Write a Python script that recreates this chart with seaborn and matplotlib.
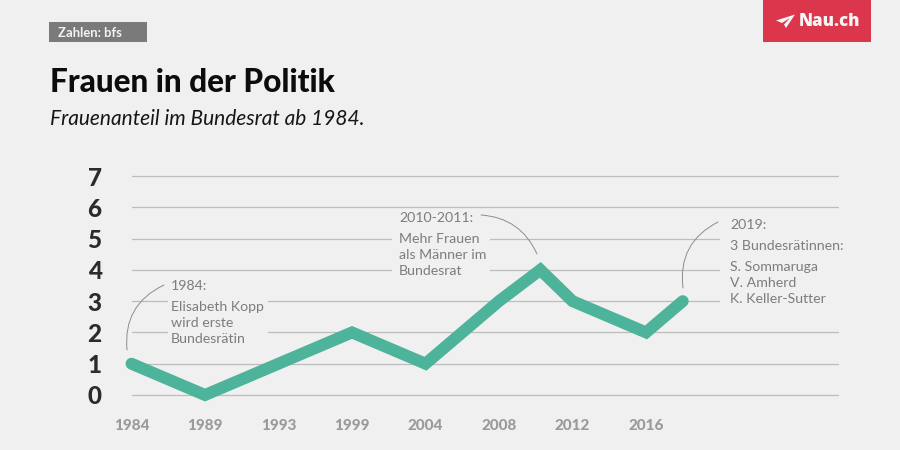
import numpy as np
import pandas as pd
import matplotlib
matplotlib.use("Agg")
import matplotlib.pyplot as plt
from matplotlib.patches import Rectangle, Polygon
import seaborn as sns

years = [1984, 1989, 1993, 1999, 2004, 2008, 2010.25, 2012, 2016, 2018]
women = [1, 0, 1, 2, 1, 3, 4, 3, 2, 3]
tick_years = [1984, 1989, 1993, 1999, 2004, 2008, 2012, 2016]
y_ticks = [0, 1, 2, 3, 4, 5, 6, 7]

BG = "#f0f0f0"
W, H = 900, 450
sns.set_theme(style="white", rc={"figure.facecolor": BG, "axes.facecolor": BG})
plt.rcParams["font.family"] = ["Lato", "DejaVu Sans"]

fig = plt.figure(figsize=(9, 4.5), dpi=100)
ax = fig.add_axes([131.5 / W, (H - 395) / H, (838 - 131.5) / W, (395 - 176) / H])

# evenly spaced tick slots, as in the original axis
slot_ext = tick_years + [2026.45]
slot_pos = list(range(len(tick_years))) + [7 + 192 / 73.5]
fwd = lambda v: np.interp(v, slot_ext, slot_pos, left=-1, right=12)
inv = lambda v: np.interp(v, slot_pos, slot_ext)
ax.set_xscale("function", functions=(fwd, inv))

df = pd.DataFrame({"Jahr": years, "Frauen": women})
sns.lineplot(data=df, x="Jahr", y="Frauen", ax=ax, color="#4eb39b", linewidth=8.6,
             solid_capstyle="round", solid_joinstyle="miter", clip_on=False, zorder=5)

ax.set_xlim(1984, 2026.45)
ax.set_ylim(0, 7)
ax.set_xticks(tick_years)
ax.set_xticklabels([str(t) for t in tick_years], fontsize=11, fontweight="black", color="#9a9a9a")
ax.set_yticks(y_ticks)
ax.set_yticklabels([str(t) for t in y_ticks], fontsize=17.5, fontweight="black", color="#2b2b2b")
ax.tick_params(axis="x", length=0, pad=17.5)
ax.tick_params(axis="y", length=0, pad=21.5)
ax.minorticks_off()
ax.set_xlabel("")
ax.set_ylabel("")
ax.grid(axis="y", color="#bdbdbd", linewidth=0.9)
ax.grid(axis="x", visible=False)
ax.set_axisbelow(True)
for g in ax.get_ygridlines():
    g.set_clip_on(False)
for s in ax.spines.values():
    s.set_visible(False)


def px(x, y):
    return x / W, 1 - y / H


def mask(x0, y0, x1, y1):
    ax.add_patch(Rectangle(px(x0, y1), (x1 - x0) / W, (y1 - y0) / H, transform=fig.transFigure,
                           facecolor=BG, edgecolor="none", zorder=2, clip_on=False))


def label(x, y, s, **kw):
    kw.setdefault("color", "#7d7d7d")
    kw.setdefault("fontsize", 10.2)
    fig.text(*px(x, y), s, va="center", ha="left", zorder=10, **kw)


def arc(start, end, rad):
    ax.annotate("", xy=px(*end), xytext=px(*start), xycoords="figure fraction",
                textcoords="figure fraction", zorder=6, annotation_clip=False,
                arrowprops=dict(arrowstyle="-", color="#8c8c8c", lw=0.7,
                                connectionstyle=f"arc3,rad={rad}", shrinkA=0, shrinkB=0))


mask(168, 295, 268, 340)
mask(392, 232, 490, 276)
mask(720, 232, 850, 306)

# header
fig.patches.append(Rectangle(px(49, 42), 98 / W, 20 / H, transform=fig.transFigure, facecolor="#7a7a7a", edgecolor="none"))
label(58, 33, "Zahlen: bfs", color="#f2f2f2", fontsize=9.4, fontweight="bold")
label(50, 82, "Frauen in der Politik", color="#0c0c0c", fontsize=22.7, fontweight="black")
label(50, 119, "Frauenanteil im Bundesrat ab 1984.", color="#161616", fontsize=15.0, fontstyle="italic")

# logo
fig.patches.append(Rectangle(px(763, 42), 108 / W, 42 / H, transform=fig.transFigure, facecolor="#dc364c", edgecolor="none"))
plane = [(776, 20.5), (795, 14.5), (786, 28), (784, 24.5), (790, 18), (782, 23)]
fig.patches.append(Polygon([px(*p) for p in plane], closed=True, transform=fig.transFigure, facecolor="#f5f5f5", edgecolor="none"))
label(799, 22, "Nau.ch", color="#f5f5f5", fontsize=12.2, fontweight="black", family=["Open Sans", "DejaVu Sans"])

# annotations
label(171, 286, "1984:")
label(171, 307, "Elisabeth Kopp")
label(171, 323, "wird erste")
label(171, 339, "Bundesrätin")
label(399, 218, "2010-2011:")
label(399, 239, "Mehr Frauen")
label(399, 255, "als Männer im")
label(399, 271, "Bundesrat")
label(730, 225, "2019:")
label(730, 246, "3 Bundesrätinnen:")
label(730, 267, "S. Sommaruga")
label(730, 283, "V. Amherd")
label(730, 299, "K. Keller-Sutter")

arc((127, 350), (164, 285), -0.35)
arc((537, 254), (481, 215), 0.3)
arc((683, 288), (718, 222), -0.35)

fig.savefig("out.png", dpi=100, facecolor=BG)
